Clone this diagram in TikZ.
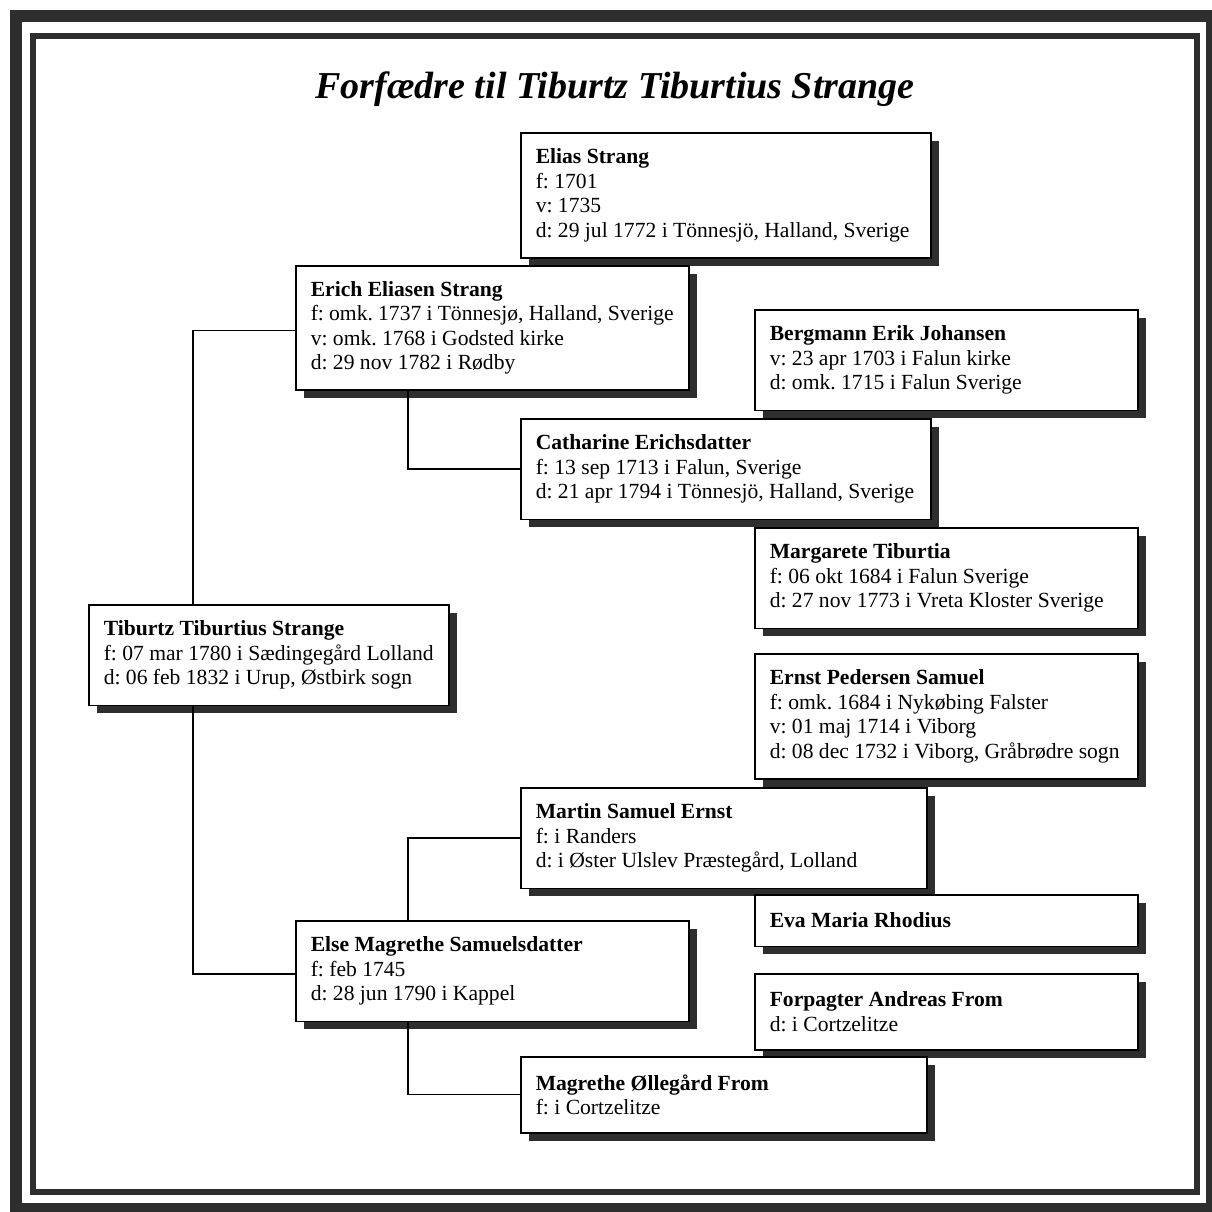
\documentclass[tikz,border=0pt]{standalone}
\usepackage{fontspec}
\setmainfont{Liberation Serif}
\usetikzlibrary{calc,shadows}
\definecolor{ink}{gray}{0.18}
\frenchspacing
\hyphenpenalty=10000\relax
\tikzset{
  pbox/.style={anchor=north west, draw=black, line width=1.5pt, fill=white,
    align=flush left, inner xsep=15pt, inner ysep=0pt,
    font=\fontsize{21.6}{24.5}\selectfont,
    drop shadow={shadow xshift=8pt, shadow yshift=-8pt, fill=ink, opacity=1}},
  link/.style={draw=black, line width=1.4pt},
  frameouter/.style={draw=ink, line width=11.5pt},
  frameinner/.style={draw=ink, line width=6pt},
}
\begin{document}
\begin{tikzpicture}[x=1pt,y=1pt]
\useasboundingbox (0,0) rectangle (1212,-1211);
\draw[frameouter] (16,-16) rectangle (1212,-1209);
\draw[frameinner] (33,-36) rectangle (1197,-1192);
\node[anchor=base, font=\fontsize{38}{40}\selectfont\bfseries\itshape] (title) at (615,-98) {Forfædre til Tiburtz Tiburtius Strange};

\node[pbox, text width=380pt, minimum height=125pt] (elias) at (520,-132)
  {\textbf{Elias Strang}\\f: 1701\\v: 1735\\d: 29 jul 1772 i Tönnesjö, Halland, Sverige};
\node[pbox, text width=363pt, minimum height=124pt] (erich) at (295,-265)
  {\textbf{Erich Eliasen Strang}\\f: omk. 1737 i Tönnesjø, Halland, Sverige\\v: omk. 1768 i Godsted kirke\\d: 29 nov 1782 i Rødby};
\node[pbox, text width=353pt, minimum height=100.5pt] (bergmann) at (754,-309)
  {\textbf{Bergmann Erik Johansen}\\v: 23 apr 1703 i Falun kirke\\d: omk. 1715 i Falun Sverige};
\node[pbox, text width=380pt, minimum height=100.5pt] (catharine) at (520,-418)
  {\textbf{Catharine Erichsdatter}\\f: 13 sep 1713 i Falun, Sverige\\d: 21 apr 1794 i Tönnesjö, Halland, Sverige};
\node[pbox, text width=353pt, minimum height=100.5pt] (margarete) at (754,-527)
  {\textbf{Margarete Tiburtia}\\f: 06 okt 1684 i Falun Sverige\\d: 27 nov 1773 i Vreta Kloster Sverige};
\node[pbox, text width=330pt, minimum height=100.5pt] (tiburtz) at (88,-604)
  {\textbf{Tiburtz Tiburtius Strange}\\f: 07 mar 1780 i Sædingegård Lolland\\d: 06 feb 1832 i Urup, Østbirk sogn};
\node[pbox, text width=353pt, minimum height=125pt] (ernst) at (754,-653)
  {\textbf{Ernst Pedersen Samuel}\\f: omk. 1684 i Nykøbing Falster\\v: 01 maj 1714 i Viborg\\d: 08 dec 1732 i Viborg, Gråbrødre sogn};
\node[pbox, text width=376pt, minimum height=100.5pt] (martin) at (520,-787)
  {\textbf{Martin Samuel Ernst}\\f: i Randers\\d: i Øster Ulslev Præstegård, Lolland};
\node[pbox, text width=353pt, minimum height=51.5pt] (eva) at (754,-894)
  {\textbf{Eva Maria Rhodius}};
\node[pbox, text width=363pt, minimum height=100.5pt] (else) at (295,-920)
  {\textbf{Else Magrethe Samuelsdatter}\\f: feb 1745\\d: 28 jun 1790 i Kappel};
\node[pbox, text width=353pt, minimum height=76pt] (andreas) at (754,-973)
  {\textbf{Forpagter Andreas From}\\d: i Cortzelitze};
\node[pbox, text width=376pt, minimum height=76pt] (magrethe) at (520,-1056)
  {\textbf{Magrethe Øllegård From}\\f: i Cortzelitze};

\draw[link] ($(tiburtz.north west)+(105,0)$) |- ($(erich.west)+(0,-3)$);
\draw[link] ($(tiburtz.south west)+(105,0)$) |- ($(else.west)+(0,-3)$);
\draw[link] ($(erich.south west)+(113,0)$) |- (catharine.west);
\draw[link] ($(else.north west)+(113,0)$) |- (martin.west);
\draw[link] ($(else.south west)+(113,0)$) |- (magrethe.west);
\end{tikzpicture}
\end{document}
